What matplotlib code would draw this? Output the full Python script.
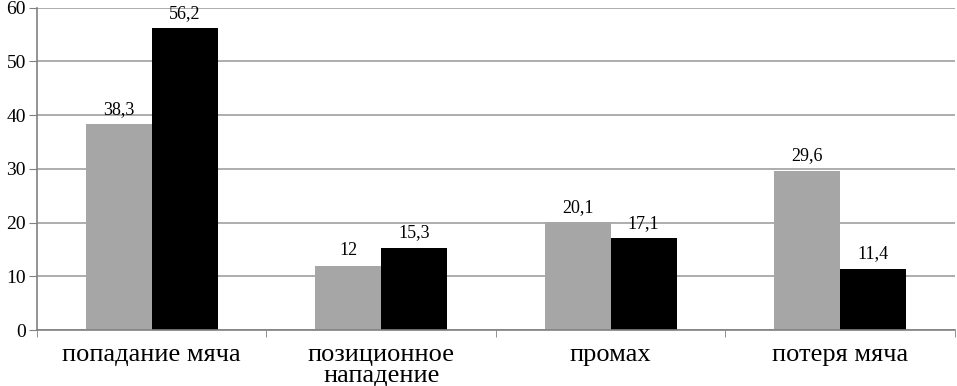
import matplotlib.pyplot as plt
import numpy as np

plt.rcParams['font.family'] = ['Liberation Serif', 'DejaVu Serif']

categories = ["попадание мяча", "позиционное\nнападение", "промах", "потеря мяча"]
series_gray = [38.3, 12, 20.1, 29.6]
series_black = [56.2, 15.3, 17.1, 11.4]
labels_gray = ["38,3", "12", "20,1", "29,6"]
labels_black = ["56,2", "15,3", "17,1", "11,4"]

fig = plt.figure(figsize=(9.57, 3.86), dpi=100)
ax = fig.add_axes([0.0387, 0.145, 0.959, 0.835])

x = np.arange(len(categories))
w = 0.2875
b1 = ax.bar(x - w/2, series_gray, w, color="#a6a6a6", zorder=2)
b2 = ax.bar(x + w/2, series_black, w, color="#000000", zorder=2)

for bars, labs in ((b1, labels_gray), (b2, labels_black)):
    for r, t in zip(bars, labs):
        ax.text(r.get_x() + r.get_width()/2, r.get_height() + 1.2, t,
                ha="center", va="bottom", fontsize=13)

ax.set_xlim(-0.5, 3.5)
ax.set_ylim(0, 60)
ax.set_yticks(range(0, 61, 10))
ax.yaxis.grid(True, color="#a0a0a0", linewidth=1.2, zorder=0)
ax.set_axisbelow(True)

ax.set_xticks(x)
ax.set_xticklabels(categories, fontsize=19, linespacing=0.95)
ax.set_xticks(np.arange(-0.5, 4.0, 1), minor=True)
ax.tick_params(axis="x", which="major", length=0, pad=10)
ax.tick_params(axis="x", which="minor", length=5, color="#808080")
ax.tick_params(axis="y", length=6, color="#808080", labelsize=14, pad=2)

for s in ("top", "right"):
    ax.spines[s].set_visible(False)
for s in ("left", "bottom"):
    ax.spines[s].set_color("#808080")
    ax.spines[s].set_linewidth(1.2)

fig.savefig("out.png", dpi=100)
